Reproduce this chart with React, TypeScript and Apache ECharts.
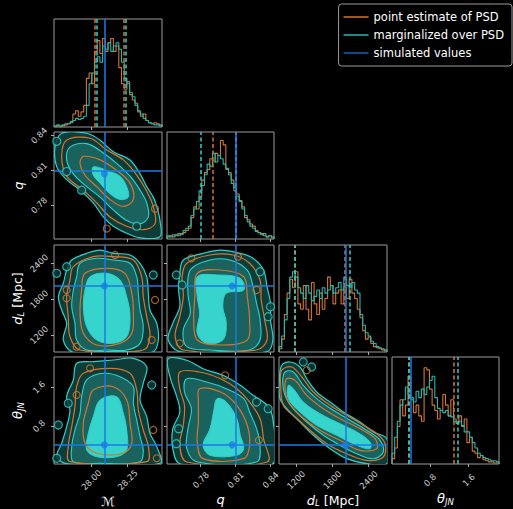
import React, { useEffect, useRef } from 'react';
import * as echarts from 'echarts';

const ORANGE = '#d4762e';
const CYAN_H = '#22b8b2';
const CYAN = '#30d0ca';
const BLUE = '#1a7ae6';
const FILL1 = '#0e3c39';
const FILL2 = '#1a625e';
const FILL3 = '#36d4cc';
const FRAME = '#9a9a9a';

const NAMES = ['point estimate of PSD', 'marginalized over PSD', 'simulated values'];

// axis ranges and ticks
const M_RANGE = [27.743, 28.486];
const Q_RANGE = [0.751, 0.843];
const D_RANGE = [917, 2705];
const T_RANGE = [0.014, 2.226];
const M_TICKS = [28.0, 28.25];
const Q_TICKS = [0.78, 0.81, 0.84];
const D_TICKS = [1200, 1800, 2400];
const T_TICKS = [0.8, 1.6];

// simulated (true) values
const TRUE_M = 28.09;
const TRUE_Q = 0.807;
const TRUE_D = 2020;
const TRUE_T = 0.41;

// quantiles (dashed)
const M_QUANT_O = [28.02, 28.216];
const M_QUANT_C = [28.037, 28.243];
const Q_QUANT_O = [0.7865, 0.8069];
const Q_QUANT_C = [0.7837, 0.8095];
const D_QUANT_O = [1182, 2000];
const D_QUANT_C = [1182, 2092];
const T_QUANT_O = [0.355, 1.295];
const T_QUANT_C = [0.365, 1.371];

// histograms (percent of panel height), 40 bins over the axis range
const M_HIST_O = [0, 1, 0, 1, 2, 3, 4, 12, 15, 10, 14, 20, 45, 50, 40, 70, 80, 68, 82, 70, 78, 82, 70, 75, 55, 40, 35, 42, 30, 25, 22, 14, 10, 12, 6, 4, 3, 4, 3, 2];
const M_HIST_C = [1, 2, 1, 2, 3, 3, 5, 6, 8, 7, 8, 10, 20, 40, 50, 60, 65, 60, 75, 72, 78, 70, 75, 78, 72, 60, 45, 40, 32, 28, 20, 15, 12, 8, 6, 4, 3, 2, 2, 1];
const Q_HIST_O = [2, 3, 2, 4, 3, 5, 6, 8, 10, 20, 30, 28, 40, 55, 62, 65, 75, 72, 80, 78, 92, 88, 65, 62, 55, 45, 42, 36, 30, 20, 18, 14, 12, 8, 6, 5, 3, 2, 3, 1];
const Q_HIST_C = [3, 2, 4, 3, 5, 4, 8, 10, 12, 22, 28, 35, 45, 50, 60, 70, 68, 80, 72, 78, 75, 70, 66, 60, 52, 48, 40, 35, 28, 22, 16, 12, 10, 7, 6, 4, 5, 2, 3, 2];
const D_HIST_O = [3, 12, 35, 55, 68, 60, 75, 45, 40, 62, 40, 30, 65, 45, 35, 55, 40, 50, 70, 62, 45, 55, 58, 45, 60, 50, 68, 55, 50, 40, 32, 20, 12, 14, 8, 5, 4, 3, 2, 1];
const D_HIST_C = [5, 15, 30, 50, 70, 75, 70, 60, 55, 50, 62, 55, 48, 52, 58, 50, 60, 55, 58, 62, 55, 60, 65, 58, 70, 62, 60, 65, 58, 55, 35, 25, 18, 15, 10, 8, 5, 4, 3, 2];
const T_HIST_O = [5, 15, 35, 60, 45, 55, 82, 60, 48, 55, 45, 40, 90, 88, 70, 55, 50, 42, 50, 65, 55, 45, 60, 42, 38, 45, 35, 42, 20, 25, 12, 10, 6, 8, 4, 3, 2, 2, 1, 1];
const T_HIST_C = [10, 25, 40, 55, 60, 72, 65, 62, 58, 68, 62, 70, 65, 72, 78, 82, 62, 52, 50, 48, 50, 45, 44, 40, 38, 40, 36, 30, 30, 25, 20, 15, 10, 8, 6, 5, 4, 3, 3, 2];

// ---- 2D contours (vertices in data units) ----
// M vs q
const MQ_OUTER = [[27.796, 0.8419], [27.968, 0.8419], [28.06, 0.836], [28.151, 0.826], [28.266, 0.819], [28.335, 0.807], [28.381, 0.796], [28.426, 0.787], [28.45, 0.779], [28.472, 0.767], [28.472, 0.753], [28.335, 0.752], [28.243, 0.756], [28.151, 0.762], [28.082, 0.77], [28.013, 0.782], [27.922, 0.793], [27.83, 0.802], [27.762, 0.813], [27.75, 0.83]];
const MQ_MID = [[27.853, 0.83], [27.968, 0.833], [28.082, 0.825], [28.174, 0.816], [28.266, 0.805], [28.335, 0.793], [28.381, 0.782], [28.392, 0.77], [28.335, 0.764], [28.243, 0.767], [28.151, 0.776], [28.06, 0.787], [27.968, 0.796], [27.876, 0.807], [27.83, 0.819]];
const MQ_INNER = [[28.013, 0.813], [28.106, 0.81], [28.197, 0.805], [28.243, 0.796], [28.254, 0.787], [28.197, 0.785], [28.128, 0.79], [28.06, 0.799], [28.013, 0.806]];
const MQ_OR_OUT = [[27.83, 0.836], [27.991, 0.8376], [28.106, 0.8275], [28.22, 0.819], [28.312, 0.806], [28.381, 0.792], [28.426, 0.779], [28.438, 0.764], [28.357, 0.759], [28.243, 0.762], [28.128, 0.77], [28.037, 0.782], [27.945, 0.793], [27.83, 0.805], [27.796, 0.822]];
const MQ_OR_IN = [[27.945, 0.822], [28.06, 0.819], [28.174, 0.81], [28.266, 0.799], [28.289, 0.785], [28.22, 0.779], [28.128, 0.785], [28.037, 0.796], [27.956, 0.806], [27.922, 0.816]];
const MQ_BLOB_C = [[27.762, 0.835], [27.933, 0.793], [28.312, 0.762], [27.83, 0.809]];
const MQ_BLOB_O = [[28.438, 0.777], [28.106, 0.76]];

// M vs d_L
const MD_OUTER = [[27.865, 2454], [27.968, 2566], [28.06, 2621], [28.151, 2566], [28.266, 2538], [28.335, 2399], [28.381, 2175], [28.392, 1898], [28.403, 1619], [28.45, 1397], [28.461, 1118], [28.426, 922], [28.289, 922], [28.013, 922], [27.865, 922], [27.807, 1118], [27.83, 1397], [27.796, 1619], [27.773, 1841], [27.807, 2065], [27.83, 2287]];
const MD_MID = [[27.922, 2399], [28.037, 2483], [28.151, 2454], [28.266, 2399], [28.312, 2175], [28.323, 1898], [28.335, 1619], [28.357, 1341], [28.335, 1062], [28.243, 950], [28.106, 950], [27.968, 950], [27.899, 1118], [27.887, 1397], [27.865, 1674], [27.876, 1953], [27.899, 2175]];
const MD_INNER = [[27.991, 2175], [28.106, 2232], [28.197, 2120], [28.243, 1841], [28.266, 1507], [28.243, 1173], [28.151, 1062], [28.037, 1118], [27.968, 1341], [27.945, 1674], [27.956, 1953]];
const MD_OR_OUT = [[27.876, 2343], [28.013, 2510], [28.151, 2510], [28.289, 2454], [28.346, 2175], [28.357, 1841], [28.381, 1507], [28.403, 1173], [28.357, 950], [27.922, 950], [27.853, 1173], [27.841, 1507], [27.83, 1841], [27.853, 2120]];
const MD_OR_IN = [[27.956, 2232], [28.106, 2316], [28.231, 2232], [28.278, 1898], [28.289, 1564], [28.278, 1229], [28.197, 1062], [28.037, 1034], [27.945, 1229], [27.922, 1564], [27.933, 1953]];
const MD_BLOB_C = [[27.83, 2343], [28.426, 2204], [27.762, 2232]];
const MD_BLOB_O = [[27.83, 1953], [27.83, 1814], [28.438, 1786], [28.163, 2538], [27.899, 1006], [28.415, 1118]];

// M vs theta
const MT_OUTER = [[27.899, 2.096], [28.013, 2.129], [28.151, 2.164], [28.289, 2.199], [28.381, 2.026], [28.357, 1.682], [28.335, 1.337], [28.381, 0.992], [28.403, 0.649], [28.45, 0.372], [28.472, 0.029], [28.06, 0.02], [27.83, 0.02], [27.762, 0.165], [27.796, 0.442], [27.83, 0.785], [27.853, 1.13], [27.83, 1.405], [27.876, 1.751]];
const MT_MID = [[27.968, 1.751], [28.082, 1.889], [28.197, 1.819], [28.289, 1.612], [28.289, 1.269], [28.312, 0.924], [28.335, 0.579], [28.357, 0.304], [28.335, 0.062], [28.06, 0.029], [27.876, 0.062], [27.865, 0.372], [27.887, 0.717], [27.922, 1.062], [27.933, 1.405]];
const MT_INNER = [[28.06, 1.337], [28.174, 1.405], [28.22, 1.062], [28.243, 0.717], [28.243, 0.304], [28.174, 0.165], [28.037, 0.165], [27.968, 0.304], [27.979, 0.649], [28.013, 0.992]];
const MT_OR_OUT = [[27.945, 1.889], [28.128, 1.992], [28.266, 1.889], [28.312, 1.544], [28.323, 1.13], [28.357, 0.717], [28.392, 0.372], [28.381, 0.062], [27.853, 0.062], [27.841, 0.372], [27.865, 0.785], [27.887, 1.199], [27.899, 1.612]];
const MT_OR_IN = [[28.013, 1.544], [28.151, 1.612], [28.243, 1.337], [28.266, 0.855], [28.278, 0.442], [28.22, 0.236], [28.037, 0.236], [27.956, 0.442], [27.945, 0.855], [27.979, 1.269]];
const MT_BLOB_C = [[27.841, 1.269], [27.773, 0.82], [27.762, 0.132], [28.415, 1.647]];
const MT_BLOB_O = [[27.899, 1.441], [28.426, 0.717], [28.45, 0.132], [27.991, 1.992]];

// q vs d_L
const QD_OUTER = [[0.765, 2454], [0.782, 2566], [0.797, 2621], [0.814, 2566], [0.825, 2483], [0.834, 2287], [0.837, 2008], [0.84, 1731], [0.84, 1453], [0.842, 1118], [0.837, 922], [0.802, 922], [0.762, 922], [0.752, 1118], [0.756, 1397], [0.762, 1674], [0.761, 1953], [0.762, 2232]];
const QD_MID = [[0.771, 2287], [0.788, 2454], [0.805, 2454], [0.82, 2287], [0.825, 2008], [0.828, 1731], [0.831, 1453], [0.831, 1118], [0.822, 950], [0.788, 950], [0.768, 1006], [0.765, 1285], [0.771, 1564], [0.769, 1898]];
const QD_INNER = [[0.777, 2175], [0.794, 2204], [0.814, 2148], [0.817, 1953], [0.802, 1898], [0.799, 1674], [0.802, 1397], [0.799, 1118], [0.785, 1062], [0.777, 1229], [0.779, 1564], [0.777, 1841]];
const QD_OR_OUT = [[0.768, 2399], [0.788, 2538], [0.808, 2538], [0.822, 2399], [0.831, 2120], [0.832, 1786], [0.835, 1453], [0.837, 1118], [0.828, 950], [0.765, 950], [0.758, 1173], [0.762, 1507], [0.765, 1841], [0.764, 2175]];
const QD_OR_IN = [[0.777, 2232], [0.797, 2287], [0.817, 2175], [0.82, 1841], [0.822, 1453], [0.82, 1118], [0.797, 1034], [0.777, 1118], [0.774, 1453], [0.775, 1841]];
const QD_BLOB_C = [[0.759, 2204], [0.764, 2037], [0.831, 2259], [0.84, 1674], [0.838, 1507]];
const QD_BLOB_O = [[0.828, 1953], [0.772, 2483], [0.812, 2510], [0.762, 1062]];

// q vs theta
const QT_OUTER = [[0.752, 2.191], [0.768, 2.158], [0.782, 1.984], [0.799, 1.848], [0.814, 1.641], [0.825, 1.434], [0.837, 1.228], [0.842, 0.951], [0.842, 0.02], [0.802, 0.02], [0.762, 0.02], [0.756, 0.331], [0.756, 0.744], [0.762, 1.089], [0.759, 1.434], [0.754, 1.777]];
const QT_MID = [[0.768, 1.777], [0.785, 1.709], [0.802, 1.571], [0.817, 1.364], [0.822, 1.089], [0.828, 0.744], [0.831, 0.401], [0.828, 0.056], [0.777, 0.056], [0.768, 0.331], [0.769, 0.744], [0.772, 1.157], [0.766, 1.503]];
const QT_INNER = [[0.794, 1.364], [0.802, 1.296], [0.811, 0.951], [0.814, 0.607], [0.817, 0.331], [0.811, 0.194], [0.788, 0.194], [0.782, 0.401], [0.788, 0.744], [0.791, 1.089]];
const QT_OR_OUT = [[0.762, 1.916], [0.779, 1.916], [0.797, 1.777], [0.811, 1.571], [0.822, 1.296], [0.831, 0.951], [0.834, 0.538], [0.837, 0.056], [0.768, 0.056], [0.762, 0.401], [0.765, 0.814], [0.766, 1.228], [0.762, 1.571]];
const QT_OR_IN = [[0.779, 1.571], [0.797, 1.503], [0.811, 1.228], [0.82, 0.814], [0.822, 0.401], [0.817, 0.124], [0.782, 0.124], [0.777, 0.469], [0.778, 0.883], [0.778, 1.296]];
const QT_BLOB_C = [[0.761, 0.744], [0.759, 0.434], [0.838, 1.157], [0.828, 1.296]];
const QT_BLOB_O = [[0.801, 1.848], [0.83, 0.504]];

// d_L vs theta
const DT_OUTER = [[962, 2.054], [1099, 2.123], [1265, 2.019], [1376, 1.777], [1541, 1.503], [1762, 1.296], [1982, 1.089], [2258, 0.882], [2479, 0.676], [2701, 0.537], [2701, 0.02], [2369, 0.02], [2038, 0.124], [1762, 0.331], [1485, 0.607], [1265, 0.882], [1045, 1.157], [934, 1.364], [922, 1.709]];
const DT_MID = [[1016, 1.916], [1154, 1.916], [1319, 1.641], [1541, 1.364], [1816, 1.124], [2093, 0.918], [2369, 0.711], [2590, 0.504], [2644, 0.262], [2479, 0.124], [2204, 0.227], [1927, 0.401], [1651, 0.607], [1376, 0.882], [1154, 1.157], [1016, 1.434], [978, 1.709]];
const DT_INNER = [[1071, 1.641], [1154, 1.571], [1319, 1.296], [1596, 1.054], [1927, 0.847], [2204, 0.676], [2424, 0.469], [2424, 0.331], [2204, 0.401], [1872, 0.607], [1541, 0.814], [1265, 1.089], [1071, 1.364]];
const DT_OR_OUT = [[962, 1.951], [1127, 2.019], [1293, 1.813], [1485, 1.503], [1762, 1.228], [2038, 1.021], [2313, 0.814], [2535, 0.641], [2672, 0.434], [2644, 0.159], [2369, 0.09], [2038, 0.227], [1707, 0.434], [1430, 0.711], [1182, 0.986], [988, 1.228], [945, 1.641]];
const DT_OR_IN = [[1045, 1.777], [1182, 1.742], [1376, 1.434], [1651, 1.157], [1927, 0.951], [2258, 0.744], [2507, 0.537], [2535, 0.331], [2258, 0.297], [1927, 0.504], [1596, 0.711], [1293, 0.986], [1071, 1.296], [1016, 1.571]];
const DT_BLOB_C = [[1319, 2.123], [1458, 2.019]];
const DT_BLOB_O = [[1376, 1.951]];

// layout (pixels)
const COL_LEFT = [54, 167, 279, 392];
const COL_W = [108, 107, 108, 107];
const ROW_TOP = [19, 132, 245, 357];
const ROW_H = [108, 107, 107, 107];

const NAME_STYLE = {
  color: '#ffffff',
  fontSize: 12.5,
  fontFamily: 'DejaVu Sans',
  rich: {
    i: { fontStyle: 'italic', fontSize: 13, color: '#fff', fontFamily: 'DejaVu Sans' },
    s: { fontStyle: 'italic', fontSize: 8.5, color: '#fff', fontFamily: 'DejaVu Sans', padding: [6, 0, 0, 0] },
    n: { fontSize: 12.5, color: '#fff', fontFamily: 'DejaVu Sans' },
  },
};

const VARS = [
  { range: M_RANGE, ticks: M_TICKS, fmt: (v: number) => v.toFixed(2), label: '{n|ℳ}', truth: TRUE_M, hO: M_HIST_O, hC: M_HIST_C, qO: M_QUANT_O, qC: M_QUANT_C },
  { range: Q_RANGE, ticks: Q_TICKS, fmt: (v: number) => v.toFixed(2), label: '{i|q}', truth: TRUE_Q, hO: Q_HIST_O, hC: Q_HIST_C, qO: Q_QUANT_O, qC: Q_QUANT_C },
  { range: D_RANGE, ticks: D_TICKS, fmt: (v: number) => String(Math.round(v)), label: '{i|d}{s|L}{n| [Mpc]}', truth: TRUE_D, hO: D_HIST_O, hC: D_HIST_C, qO: D_QUANT_O, qC: D_QUANT_C },
  { range: T_RANGE, ticks: T_TICKS, fmt: (v: number) => v.toFixed(1), label: '{i|θ}{s|JN}', truth: TRUE_T, hO: T_HIST_O, hC: T_HIST_C, qO: T_QUANT_O, qC: T_QUANT_C },
];

const CONTOURS: Record<string, any> = {
  '1-0': { outer: MQ_OUTER, mid: MQ_MID, inner: MQ_INNER, oo: MQ_OR_OUT, oi: MQ_OR_IN, bc: MQ_BLOB_C, bo: MQ_BLOB_O },
  '2-0': { outer: MD_OUTER, mid: MD_MID, inner: MD_INNER, oo: MD_OR_OUT, oi: MD_OR_IN, bc: MD_BLOB_C, bo: MD_BLOB_O },
  '3-0': { outer: MT_OUTER, mid: MT_MID, inner: MT_INNER, oo: MT_OR_OUT, oi: MT_OR_IN, bc: MT_BLOB_C, bo: MT_BLOB_O },
  '2-1': { outer: QD_OUTER, mid: QD_MID, inner: QD_INNER, oo: QD_OR_OUT, oi: QD_OR_IN, bc: QD_BLOB_C, bo: QD_BLOB_O },
  '3-1': { outer: QT_OUTER, mid: QT_MID, inner: QT_INNER, oo: QT_OR_OUT, oi: QT_OR_IN, bc: QT_BLOB_C, bo: QT_BLOB_O },
  '3-2': { outer: DT_OUTER, mid: DT_MID, inner: DT_INNER, oo: DT_OR_OUT, oi: DT_OR_IN, bc: DT_BLOB_C, bo: DT_BLOB_O },
};

function stepData(range: number[], vals: number[]) {
  const w = (range[1] - range[0]) / vals.length;
  const pts: number[][] = [[range[0], 0]];
  vals.forEach((v, i) => pts.push([range[0] + i * w, v]));
  pts.push([range[1], vals[vals.length - 1]]);
  pts.push([range[1], 0]);
  return pts;
}

function polySeries(g: number, pts: number[][], style: any, z: number) {
  return {
    type: 'custom',
    xAxisIndex: g,
    yAxisIndex: g,
    z,
    silent: true,
    clip: true,
    data: pts,
    renderItem: (params: any, api: any) => {
      if (params.dataIndex !== 0) return null;
      const points = pts.map((p) => api.coord(p));
      return { type: 'polygon', shape: { points, smooth: 0.35 }, style };
    },
  };
}

function axis(g: number, vi: number, isY: boolean, showLabel: boolean) {
  const v = VARS[vi];
  return {
    type: 'value',
    gridIndex: g,
    min: v.range[0],
    max: v.range[1],
    axisLine: { show: false },
    splitLine: { show: false },
    axisTick: { show: true, length: 3, customValues: v.ticks, lineStyle: { color: '#aaaaaa' } },
    axisLabel: {
      show: showLabel,
      customValues: v.ticks,
      formatter: v.fmt,
      rotate: 45,
      fontSize: 8.5,
      color: '#d0d0d0',
      fontFamily: 'DejaVu Sans',
      align: 'center',
      verticalAlign: 'middle',
      margin: isY ? 15 : 16,
    },
    name: showLabel ? v.label : '',
    nameLocation: 'middle',
    nameGap: isY ? 29 : 27,
    nameTextStyle: NAME_STYLE,
  };
}

function buildOption() {
  const grid: any[] = [];
  const xAxis: any[] = [];
  const yAxis: any[] = [];
  const series: any[] = [];
  let g = 0;
  for (let r = 0; r < 4; r++) {
    for (let c = 0; c <= r; c++) {
      grid.push({
        left: COL_LEFT[c],
        top: ROW_TOP[r],
        width: COL_W[c],
        height: ROW_H[r],
        show: true,
        borderColor: FRAME,
        borderWidth: 1,
        backgroundColor: 'transparent',
        containLabel: false,
      });
      xAxis.push(axis(g, c, false, r === 3));
      if (r === c) {
        yAxis.push({ type: 'value', gridIndex: g, min: 0, max: 100, show: false });
        const v = VARS[c];
        const dash = (vals: number[], color: string) => ({
          silent: true,
          symbol: ['none', 'none'],
          label: { show: false },
          lineStyle: { color, width: 1.5, type: [4, 2.5] },
          data: vals.map((x) => ({ xAxis: x })),
        });
        series.push({
          type: 'line', name: NAMES[0], xAxisIndex: g, yAxisIndex: g, step: 'end', symbol: 'none', z: 3,
          data: stepData(v.range, v.hO), color: ORANGE, lineStyle: { color: ORANGE, width: 1.1 }, itemStyle: { color: ORANGE },
          markLine: dash(v.qO, ORANGE),
        });
        series.push({
          type: 'line', name: NAMES[1], xAxisIndex: g, yAxisIndex: g, step: 'end', symbol: 'none', z: 4,
          data: stepData(v.range, v.hC), color: CYAN_H, lineStyle: { color: CYAN_H, width: 1.1 }, itemStyle: { color: CYAN_H },
          markLine: dash(v.qC, CYAN),
        });
        series.push({
          type: 'scatter', name: NAMES[2], xAxisIndex: g, yAxisIndex: g, z: 10, symbolSize: 0,
          data: [[v.truth, 0]], itemStyle: { color: BLUE },
          markLine: {
            silent: true, symbol: ['none', 'none'], label: { show: false },
            lineStyle: { color: BLUE, width: 1.5, type: 'solid' },
            data: [{ xAxis: v.truth }],
          },
        });
      } else {
        yAxis.push(axis(g, r, true, c === 0));
        const ct = CONTOURS[`${r}-${c}`];
        series.push(polySeries(g, ct.outer, { fill: FILL1, stroke: CYAN, lineWidth: 1.2 }, 1));
        series.push(polySeries(g, ct.mid, { fill: FILL2, stroke: CYAN, lineWidth: 1.1 }, 2));
        series.push(polySeries(g, ct.inner, { fill: FILL3, stroke: CYAN, lineWidth: 1 }, 3));
        series.push(polySeries(g, ct.oo, { fill: 'none', stroke: ORANGE, lineWidth: 1.2 }, 4));
        series.push(polySeries(g, ct.oi, { fill: 'none', stroke: ORANGE, lineWidth: 1.2 }, 4));
        series.push({
          type: 'scatter', xAxisIndex: g, yAxisIndex: g, z: 5, silent: true, symbolSize: 8,
          data: ct.bc, itemStyle: { color: FILL1, borderColor: CYAN, borderWidth: 1.2 },
        });
        series.push({
          type: 'scatter', xAxisIndex: g, yAxisIndex: g, z: 5, silent: true, symbolSize: 7,
          data: ct.bo, itemStyle: { color: 'rgba(0,0,0,0)', borderColor: ORANGE, borderWidth: 1.2 },
        });
        const vx = VARS[c];
        const vy = VARS[r];
        series.push({
          type: 'scatter', name: NAMES[2], xAxisIndex: g, yAxisIndex: g, z: 10, symbolSize: 7,
          data: [[vx.truth, vy.truth]], itemStyle: { color: BLUE },
          markLine: {
            silent: true, symbol: ['none', 'none'], label: { show: false },
            lineStyle: { color: BLUE, width: 1.5, type: 'solid' },
            data: [{ xAxis: vx.truth }, { yAxis: vy.truth }],
          },
        });
      }
      g++;
    }
  }
  return {
    animation: false,
    backgroundColor: '#000000',
    textStyle: { fontFamily: 'DejaVu Sans' },
    legend: {
      data: NAMES,
      orient: 'vertical',
      right: 1,
      top: 4,
      icon: 'rect',
      itemWidth: 25,
      itemHeight: 1.5,
      itemGap: 4,
      padding: [6, 8, 6, 5],
      backgroundColor: '#000',
      borderColor: '#9a9a9a',
      borderWidth: 1,
      borderRadius: 3,
      selectedMode: false,
      textStyle: { color: '#ffffff', fontSize: 11.5, fontFamily: 'DejaVu Sans', lineHeight: 14 },
    },
    grid,
    xAxis,
    yAxis,
    series,
  };
}

export default function App() {
  const ref = useRef<HTMLDivElement>(null);
  useEffect(() => {
    if (!ref.current) return;
    const chart = echarts.init(ref.current, undefined, { renderer: 'svg' });
    chart.setOption(buildOption() as any);
    return () => chart.dispose();
  }, []);
  return (
    <div
      ref={ref}
      style={{ position: 'absolute', left: 0, top: 0, width: 513, height: 509, background: '#000' }}
    />
  );
}
